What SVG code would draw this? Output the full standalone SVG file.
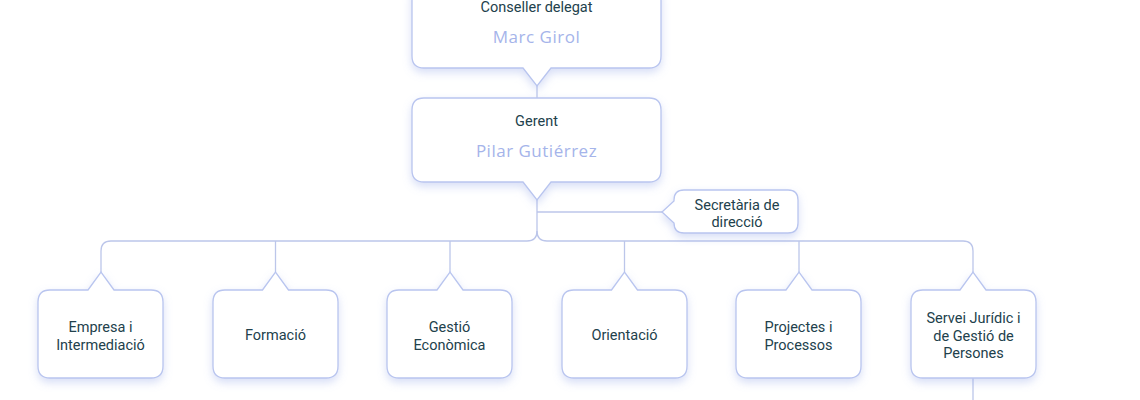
<svg xmlns="http://www.w3.org/2000/svg" width="1140" height="400" viewBox="0 0 1140 400">
  <defs>
    <filter id="sh" x="-20%" y="-20%" width="140%" height="150%">
      <feDropShadow dx="0" dy="4" stdDeviation="4" flood-color="#8fa2e6" flood-opacity="0.35"/>
    </filter>
  </defs>
  <style>
    .box { fill: #ffffff; stroke: #b9c5ef; stroke-width: 1.3; filter: url(#sh); }
    .ln { fill: none; stroke: #bcc6ea; stroke-width: 1.3; }
    .t { font-family: Roboto, "Liberation Sans", sans-serif; font-size: 14.5px; fill: #22414c; text-anchor: middle; }
    .n { font-family: "Open Sans", "Liberation Sans", sans-serif; font-size: 17px; fill: #a5b4ea; text-anchor: middle; letter-spacing: 0.5px; }
  </style>
  <rect width="1140" height="400" fill="#ffffff"/>

  <g id="connectors">
    <path class="ln" d="M537,86 V98"/>
    <path class="ln" d="M537,200 V231 Q537,241 527,241 H111 Q101,241 101,251 V272"/>
    <path class="ln" d="M537,231 Q537,241 547,241 H963 Q973,241 973,251 V272"/>
    <path class="ln" d="M537,212 H662"/>
    <path class="ln" d="M275.5,241 V272"/>
    <path class="ln" d="M450,241 V272"/>
    <path class="ln" d="M624.5,241 V272"/>
    <path class="ln" d="M799,241 V272"/>
    <path class="ln" d="M973,378 V400"/>
  </g>

  <g id="conseller">
    <path class="box" d="M424,-16 H649 Q661,-16 661,-4 V56 Q661,68 649,68 H551 L537,86 L523,68 H424 Q412,68 412,56 V-4 Q412,-16 424,-16 Z"/>
    <text class="t" x="536.5" y="12">Conseller delegat</text>
    <text class="n" x="536.5" y="43">Marc Girol</text>
  </g>

  <g id="gerent">
    <path class="box" d="M424,98 H649 Q661,98 661,110 V170 Q661,182 649,182 H551 L537,200 L523,182 H424 Q412,182 412,170 V110 Q412,98 424,98 Z"/>
    <text class="t" x="536.5" y="126">Gerent</text>
    <text class="n" x="536.5" y="157">Pilar Gutiérrez</text>
  </g>

  <g id="secretaria">
    <path class="box" d="M684,190 H788 Q798,190 798,200 V223 Q798,233 788,233 H684 Q674,233 674,223 L662,212 L674,201 V200 Q674,190 684,190 Z"/>
    <text class="t" x="737" y="210">Secretària de</text>
    <text class="t" x="737" y="227">direcció</text>
  </g>

  <g id="empresa">
    <path class="box" d="M50,290 H88 L101,272 L114,290 H151 Q163,290 163,302 V366 Q163,378 151,378 H50 Q38,378 38,366 V302 Q38,290 50,290 Z"/>
    <text class="t" x="100.5" y="332">Empresa i</text>
    <text class="t" x="100.5" y="350">Intermediació</text>
  </g>

  <g id="formacio">
    <path class="box" d="M225,290 H262.5 L275.5,272 L288.5,290 H326 Q338,290 338,302 V366 Q338,378 326,378 H225 Q213,378 213,366 V302 Q213,290 225,290 Z"/>
    <text class="t" x="275.5" y="340">Formació</text>
  </g>

  <g id="gestio">
    <path class="box" d="M399,290 H437 L450,272 L463,290 H500 Q512,290 512,302 V366 Q512,378 500,378 H399 Q387,378 387,366 V302 Q387,290 399,290 Z"/>
    <text class="t" x="449.5" y="332">Gestió</text>
    <text class="t" x="449.5" y="350">Econòmica</text>
  </g>

  <g id="orientacio">
    <path class="box" d="M574,290 H611.5 L624.5,272 L637.5,290 H675 Q687,290 687,302 V366 Q687,378 675,378 H574 Q562,378 562,366 V302 Q562,290 574,290 Z"/>
    <text class="t" x="624.5" y="340">Orientació</text>
  </g>

  <g id="projectes">
    <path class="box" d="M748,290 H786 L799,272 L812,290 H849 Q861,290 861,302 V366 Q861,378 849,378 H748 Q736,378 736,366 V302 Q736,290 748,290 Z"/>
    <text class="t" x="798.5" y="332">Projectes i</text>
    <text class="t" x="798.5" y="350">Processos</text>
  </g>

  <g id="servei">
    <path class="box" d="M923,290 H960 L973,272 L986,290 H1024 Q1036,290 1036,302 V366 Q1036,378 1024,378 H923 Q911,378 911,366 V302 Q911,290 923,290 Z"/>
    <text class="t" x="973.5" y="323">Servei Jurídic i</text>
    <text class="t" x="973.5" y="341">de Gestió de</text>
    <text class="t" x="973.5" y="358">Persones</text>
  </g>
</svg>
